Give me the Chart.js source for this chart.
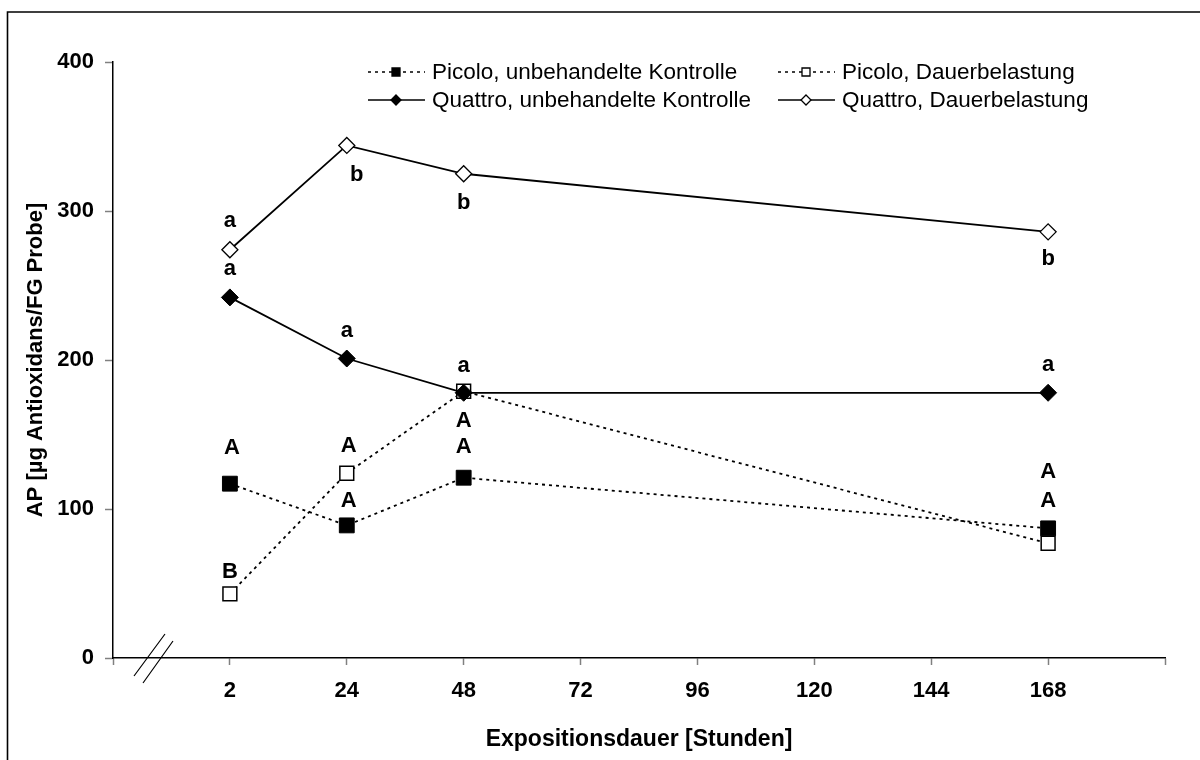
<!DOCTYPE html>
<html>
<head>
<meta charset="utf-8">
<script src="https://cdn.jsdelivr.net/npm/chart.js@4.4.0/dist/chart.umd.min.js"></script>
<style>
  html, body { margin: 0; padding: 0; background: #fff; }
</style>
</head>
<body>
<canvas id="chart" width="1200" height="760"></canvas>
<script>
// --- data ---
const hourLabels = ['2', '24', '48', '72', '96', '120', '144', '168'];
const sampleHours = ['2', '24', '48', '168'];

const picoloKontrolle = [117, 89, 121, 87];
const picoloDauer = [43, 124, 179, 77];
const quattroKontrolle = [242, 201, 178, 178];
const quattroDauer = [274, 344, 325, 286];

const picoloKontrolleLetters = ['A', 'A', 'A', 'A'];
const picoloDauerLetters = ['B', 'A', 'A', 'A'];
const quattroKontrolleLetters = ['a', 'a', 'a', 'a'];
const quattroDauerLetters = ['a', 'b', 'b', 'b'];

const seriesNames = [
  'Picolo, unbehandelte Kontrolle',
  'Picolo, Dauerbelastung',
  'Quattro, unbehandelte Kontrolle',
  'Quattro, Dauerbelastung'
];

const FONT = "Arial, 'Liberation Sans', sans-serif";
Chart.defaults.font.family = FONT;
Chart.defaults.color = '#000';

function toPoints(values) {
  return values.map((v, i) => ({ x: hourLabels.indexOf(sampleHours[i]), y: v }));
}

// letter label placement relative to its point: [dx, baseline dy] in px
const letterOffsets = [
  [[2, -30], [2, -18], [0, -25], [0, -21]],
  [[0, -16], [2, -21], [0, 36], [0, -65]],
  [[0, -22], [0, -22], [0, -21], [0, -22]],
  [[0, -23], [10, 36], [0, 35], [0, 33]]
];
const letterSets = [picoloKontrolleLetters, picoloDauerLetters, quattroKontrolleLetters, quattroDauerLetters];

function drawMarker(ctx, style, x, y, r, fill) {
  ctx.save();
  ctx.setLineDash([]);
  ctx.beginPath();
  if (style === 'rect') {
    ctx.rect(x - r, y - r, 2 * r, 2 * r);
  } else {
    ctx.moveTo(x, y - r);
    ctx.lineTo(x + r, y);
    ctx.lineTo(x, y + r);
    ctx.lineTo(x - r, y);
    ctx.closePath();
  }
  ctx.fillStyle = fill;
  ctx.fill();
  ctx.lineWidth = 1.3;
  ctx.strokeStyle = '#000';
  ctx.stroke();
  ctx.restore();
}

const decorations = {
  id: 'decorations',
  beforeDraw(chart) {
    const ctx = chart.ctx;
    ctx.save();
    ctx.fillStyle = '#fff';
    ctx.fillRect(0, 0, chart.width, chart.height);
    // outer frame
    ctx.strokeStyle = '#000';
    ctx.lineWidth = 1.6;
    ctx.beginPath();
    ctx.moveTo(7.5, chart.height + 2);
    ctx.lineTo(7.5, 12);
    ctx.lineTo(chart.width + 2, 12);
    ctx.stroke();
    ctx.restore();
  },
  afterDatasetsDraw(chart) {
    const ctx = chart.ctx;
    const xs = chart.scales.x, ys = chart.scales.y;
    ctx.save();
    ctx.font = 'bold 22px ' + FONT;
    ctx.fillStyle = '#000';
    ctx.textAlign = 'center';
    ctx.textBaseline = 'alphabetic';
    chart.data.datasets.forEach((ds, d) => {
      ds.data.forEach((p, i) => {
        const [dx, dy] = letterOffsets[d][i];
        ctx.fillText(letterSets[d][i], xs.getPixelForValue(p.x) + dx, ys.getPixelForValue(p.y) + dy);
      });
    });
    ctx.restore();
  },
  afterDraw(chart) {
    const ctx = chart.ctx;
    ctx.save();
    // axis break marks
    ctx.strokeStyle = '#000';
    ctx.lineWidth = 1.2;
    ctx.beginPath();
    ctx.moveTo(134, 676); ctx.lineTo(165, 634);
    ctx.moveTo(143, 683); ctx.lineTo(173, 641);
    ctx.stroke();

    // legend
    const cols = [368, 778];
    const rows = [72, 100];
    const order = [[0, 0, 0], [1, 1, 0], [2, 0, 1], [3, 1, 1]];
    ctx.font = '22.5px ' + FONT;
    ctx.textBaseline = 'middle';
    ctx.textAlign = 'left';
    order.forEach(([d, c, r]) => {
      const ds = chart.data.datasets[d];
      const x0 = cols[c], y = rows[r];
      ctx.strokeStyle = '#000';
      ctx.lineWidth = 1.5;
      ctx.setLineDash(ds.borderDash || []);
      ctx.beginPath();
      ctx.moveTo(x0, y); ctx.lineTo(x0 + 57, y);
      ctx.stroke();
      ctx.setLineDash([]);
      drawMarker(ctx, ds.pointStyle === 'rect' ? 'rect' : 'diamond', x0 + 28, y,
        ds.pointStyle === 'rect' ? 4 : 5, ds.pointBackgroundColor);
      ctx.fillStyle = '#000';
      ctx.fillText(seriesNames[d], x0 + 64, y + 1);
    });
    ctx.restore();
  }
};

const datasets = [
  {
    label: seriesNames[0], data: toPoints(picoloKontrolle),
    borderColor: '#000', borderWidth: 1.8, borderDash: [3, 4],
    pointStyle: 'rect', pointRadius: 10.5, pointBackgroundColor: '#000',
    pointBorderColor: '#000', pointBorderWidth: 1, order: 3
  },
  {
    label: seriesNames[1], data: toPoints(picoloDauer),
    borderColor: '#000', borderWidth: 1.8, borderDash: [3, 4],
    pointStyle: 'rect', pointRadius: 9.8, pointBackgroundColor: '#fff',
    pointBorderColor: '#000', pointBorderWidth: 1.5, order: 2
  },
  {
    label: seriesNames[2], data: toPoints(quattroKontrolle),
    borderColor: '#000', borderWidth: 1.8,
    pointStyle: 'rectRot', pointRadius: 8.5, pointBackgroundColor: '#000',
    pointBorderColor: '#000', pointBorderWidth: 1, order: 1
  },
  {
    label: seriesNames[3], data: toPoints(quattroDauer),
    borderColor: '#000', borderWidth: 1.8,
    pointStyle: 'rectRot', pointRadius: 8, pointBackgroundColor: '#fff',
    pointBorderColor: '#000', pointBorderWidth: 1.3, order: 0
  }
];

new Chart(document.getElementById('chart').getContext('2d'), {
  type: 'line',
  data: { datasets },
  options: {
    responsive: false,
    animation: false,
    devicePixelRatio: 1,
    layout: { padding: { left: 0, top: 62, right: 35, bottom: 0 } },
    elements: { line: { tension: 0 } },
    plugins: { legend: { display: false }, tooltip: { enabled: false } },
    scales: {
      x: {
        type: 'linear', min: -1, max: 8,
        afterFit(scale) { scale.height = 102; },
        ticks: {
          stepSize: 1, autoSkip: false, maxRotation: 0, padding: 13,
          font: { size: 22, weight: 'bold' },
          callback: (v) => hourLabels[v] !== undefined ? hourLabels[v] : ''
        },
        grid: { drawOnChartArea: false, drawTicks: true, tickLength: 7, tickColor: '#808080', tickWidth: 1.5 },
        border: { color: '#000', width: 1.5 },
        title: {
          display: true, text: 'Expositionsdauer [Stunden]',
          font: { size: 23, weight: 'bold' }, padding: { top: 0, bottom: 7 }
        }
      },
      y: {
        min: 0, max: 400,
        afterFit(scale) { scale.width = 113; },
        ticks: { stepSize: 100, padding: 11, font: { size: 22, weight: 'bold' } },
        grid: { drawOnChartArea: false, drawTicks: true, tickLength: 8, tickColor: '#808080', tickWidth: 1.5 },
        border: { color: '#000', width: 1.5 },
        title: {
          display: true, text: 'AP [µg Antioxidans/FG Probe]',
          font: { size: 22, weight: 'bold' }, padding: { top: 23, bottom: 0 }
        }
      }
    }
  },
  plugins: [decorations]
});
</script>
</body>
</html>
